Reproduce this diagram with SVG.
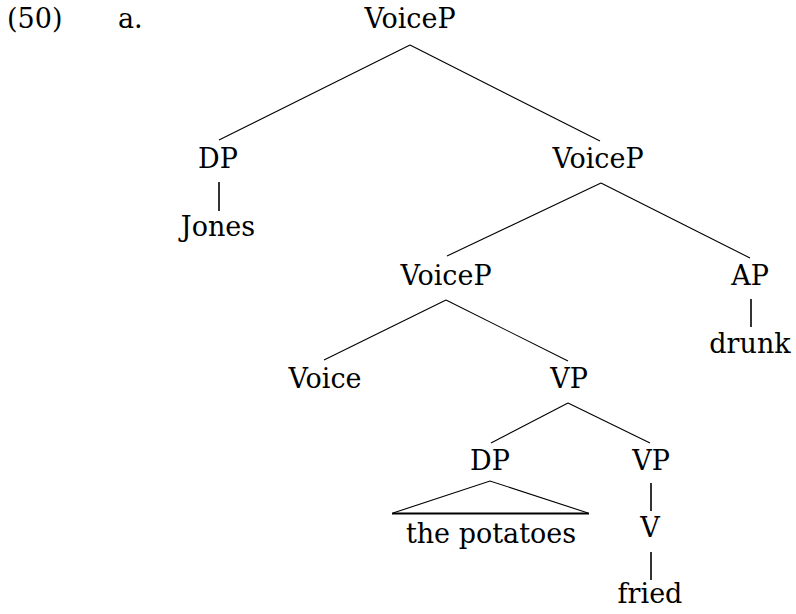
<svg xmlns="http://www.w3.org/2000/svg" width="796" height="614" viewBox="0 0 796 614">
<style>
text { font-family: "DejaVu Serif", "Liberation Serif", serif; font-size: 27px; fill: #000; text-anchor: middle; }
.l { text-anchor: start; }
line, polyline { stroke: #000; stroke-width: 1.1; fill: none; }
.v { stroke-width: 1.6; }
.b { stroke-width: 1.8; }
</style>
<rect width="796" height="614" fill="#fff"/>
<g id="labels">
<text class="l" x="7" y="28">(50)</text>
<text class="l" x="118" y="28">a.</text>
</g>
<g id="connectors">
<line x1="410" y1="45" x2="219" y2="140"/>
<line x1="410" y1="45" x2="600" y2="141"/>
<line class="v" x1="219" y1="182" x2="219" y2="211"/>
<line x1="601" y1="183" x2="447" y2="256"/>
<line x1="601" y1="183" x2="750" y2="258"/>
<line class="v" x1="751" y1="299" x2="751" y2="327"/>
<line x1="446" y1="300" x2="324" y2="360"/>
<line x1="446" y1="300" x2="568" y2="361"/>
<line x1="568" y1="403" x2="491" y2="443"/>
<line x1="568" y1="403" x2="650" y2="443"/>
<polyline points="393,513 490,481 588,513"/>
<line class="b" x1="392" y1="513.5" x2="589" y2="513.5"/>
<line class="v" x1="651" y1="483" x2="651" y2="511"/>
<line class="v" x1="651" y1="552" x2="651" y2="580"/>
</g>
<g id="n-voicep1"><text x="410" y="28">VoiceP</text></g>
<g id="n-dp1"><text x="218" y="168">DP</text></g>
<g id="n-jones"><text x="218" y="236">Jones</text></g>
<g id="n-voicep2"><text x="598" y="168">VoiceP</text></g>
<g id="n-voicep3"><text x="446" y="285">VoiceP</text></g>
<g id="n-ap"><text x="750" y="285">AP</text></g>
<g id="n-drunk"><text x="750" y="353">drunk</text></g>
<g id="n-voice"><text x="325" y="388">Voice</text></g>
<g id="n-vp1"><text x="569" y="388">VP</text></g>
<g id="n-dp2"><text x="490" y="470">DP</text></g>
<g id="n-potatoes"><text x="491" y="543">the potatoes</text></g>
<g id="n-vp2"><text x="651" y="470">VP</text></g>
<g id="n-v"><text x="650" y="537">V</text></g>
<g id="n-fried"><text x="650" y="603">fried</text></g>
</svg>
